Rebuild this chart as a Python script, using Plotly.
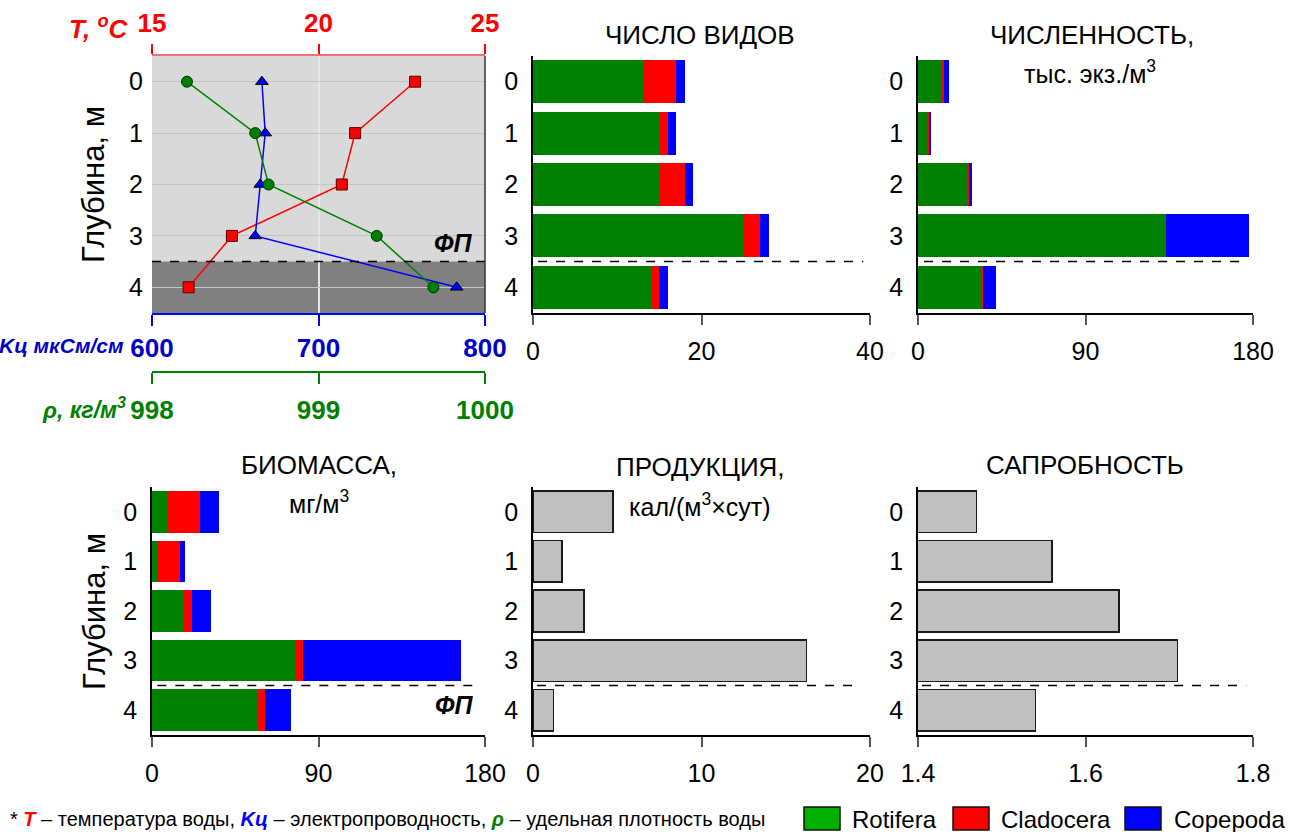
import plotly.graph_objects as go

# ---------------- data ----------------
depths = [0, 1, 2, 3, 4]
fp_depth = 3.5  # boundary of the layer ("ФП")

temperature = [22.9, 21.1, 20.7, 17.4, 16.1]          # T, °C
conductivity = [666, 668, 665, 662, 783]              # Kц, мкСм/см
density = [998.21, 998.62, 998.70, 999.35, 999.69]     # ρ, кг/м3

species_rotifera = [13, 15, 15, 25, 14]
species_cladocera = [4, 1, 3, 2, 1]
species_copepoda = [1, 1, 1, 1, 1]

abund_rotifera = [13.3, 5.6, 26.7, 133.0, 34.6]
abund_cladocera = [0.9, 0.5, 0.5, 0.3, 0.1]
abund_copepoda = [2.7, 0.7, 1.6, 44.5, 7.0]

biom_rotifera = [8.3, 2.7, 16.8, 77.2, 57.0]
biom_cladocera = [17.9, 12.7, 4.7, 4.4, 3.9]
biom_copepoda = [9.8, 2.5, 10.5, 85.2, 14.3]

production = [4.75, 1.72, 3.03, 16.24, 1.23]
saprobity = [1.47, 1.56, 1.64, 1.71, 1.54]

groups = ["Rotifera", "Cladocera", "Copepoda"]
t_ticks = [15, 20, 25]
k_ticks = [600, 700, 800]
r_ticks = [998, 999, 1000]

# ---------------- layout helpers ----------------
W, H = 1290, 832
FONT = "Liberation Sans, Arial, sans-serif"
GREEN, RED, BLUE = "#008000", "#ff0000", "#0000ff"
BAR_COLORS = [GREEN, RED, BLUE]


def px_x(p):
    return p / W


def px_y(p):
    return 1 - p / H


top_dom = [px_y(313), px_y(56)]
bot_dom = [px_y(735), px_y(487)]
col_dom = [[px_x(152), px_x(485)], [px_x(533), px_x(870)], [px_x(918), px_x(1253)]]

fig = go.Figure()

# ---------------- panel 1: profiles ----------------
fig.add_trace(go.Scatter(x=temperature, y=depths, xaxis="x", yaxis="y", mode="lines+markers",
                         line=dict(color=RED, width=1.5),
                         marker=dict(symbol="square", size=11, color=RED, line=dict(color="#5a0000", width=1)),
                         showlegend=False))
fig.add_trace(go.Scatter(x=conductivity, y=depths, xaxis="x7", yaxis="y", mode="lines+markers",
                         line=dict(color=BLUE, width=1.5),
                         marker=dict(symbol="triangle-up", size=11, color=BLUE, line=dict(color="#000000", width=1)),
                         showlegend=False))
fig.add_trace(go.Scatter(x=density, y=depths, xaxis="x8", yaxis="y", mode="lines+markers",
                         line=dict(color=GREEN, width=1.5),
                         marker=dict(symbol="circle", size=11, color=GREEN, line=dict(color="#003000", width=1)),
                         showlegend=False))

# ---------------- stacked bar panels ----------------
stacks = [
    ("x2", "y2", [species_rotifera, species_cladocera, species_copepoda]),
    ("x3", "y3", [abund_rotifera, abund_cladocera, abund_copepoda]),
    ("x4", "y4", [biom_rotifera, biom_cladocera, biom_copepoda]),
]
for xa, ya, series in stacks:
    for name, vals, col in zip(groups, series, BAR_COLORS):
        fig.add_trace(go.Bar(x=vals, y=depths, orientation="h", xaxis=xa, yaxis=ya, name=name,
                             marker=dict(color=col, line=dict(width=0)), showlegend=False))

for xa, ya, vals in [("x5", "y5", production), ("x6", "y6", saprobity)]:
    fig.add_trace(go.Bar(x=vals, y=depths, orientation="h", xaxis=xa, yaxis=ya,
                         marker=dict(color="#c0c0c0", line=dict(color="#1a1a1a", width=1.5)),
                         showlegend=False))

# ---------------- axes ----------------
tick_font = dict(family=FONT, size=25, color="#000000")


def yaxis_common(domain, anchor, showline=True, grid=False):
    return dict(domain=domain, anchor=anchor, range=[4.5, -0.5], tickvals=depths,
                tickfont=tick_font, showline=showline, linecolor="#000000", linewidth=1.5,
                ticks="", showgrid=grid, gridcolor="#c4c4c4", gridwidth=1, zeroline=False,
                ticklabelstandoff=8, automargin=False)


def xaxis_bar(domain, anchor, rng, ticks):
    return dict(domain=domain, anchor=anchor, range=rng, tickvals=ticks, tickfont=tick_font,
                showline=True, linecolor="#000000", linewidth=1.5, ticks="outside", ticklen=10,
                tickcolor="#555555", tickwidth=1.5, showgrid=False, zeroline=False,
                ticklabelstandoff=5, automargin=False)


layout = dict(
    width=W, height=H, margin=dict(l=0, r=0, t=0, b=0, pad=0, autoexpand=False),
    paper_bgcolor="white", plot_bgcolor="rgba(0,0,0,0)",
    barmode="stack", bargap=0.16, showlegend=False,
    font=dict(family=FONT, color="#000000"),
    xaxis=dict(domain=col_dom[0], anchor="y", side="top", range=[15, 25], tickvals=t_ticks,
               tickfont=dict(family=FONT, size=26, color=RED, weight="bold"),
               showline=True, linecolor="#f07070", linewidth=1.5, ticks="outside", ticklen=10,
               tickcolor=RED, tickwidth=1.5, showgrid=True, gridcolor="#e6e6e6", gridwidth=1.5,
               zeroline=False, ticklabelstandoff=2, automargin=False),
    xaxis7=dict(overlaying="x", anchor="y", side="bottom", range=[600, 800], tickvals=k_ticks,
                tickfont=dict(family=FONT, size=26, color="#0000c8", weight="bold"),
                showline=True, linecolor=BLUE, linewidth=2, ticks="outside", ticklen=11,
                tickcolor=BLUE, tickwidth=2, showgrid=False, zeroline=False, ticklabelstandoff=0,
                automargin=False),
    xaxis8=dict(overlaying="x", anchor="free", position=px_y(372), side="bottom", range=[998, 1000],
                tickvals=r_ticks, tickfont=dict(family=FONT, size=26, color=GREEN, weight="bold"),
                showline=True, linecolor=GREEN, linewidth=1.5, ticks="outside", ticklen=11,
                tickcolor=GREEN, tickwidth=1.5, showgrid=False, zeroline=False, ticklabelstandoff=4,
                automargin=False),
    yaxis=yaxis_common(top_dom, "x", showline=False, grid=True),
    xaxis2=xaxis_bar(col_dom[1], "y2", [0, 40], [0, 20, 40]),
    yaxis2=yaxis_common(top_dom, "x2"),
    xaxis3=xaxis_bar(col_dom[2], "y3", [0, 180], [0, 90, 180]),
    yaxis3=yaxis_common(top_dom, "x3"),
    xaxis4=xaxis_bar(col_dom[0], "y4", [0, 180], [0, 90, 180]),
    yaxis4=yaxis_common(bot_dom, "x4"),
    xaxis5=xaxis_bar(col_dom[1], "y5", [0, 20], [0, 10, 20]),
    yaxis5=yaxis_common(bot_dom, "x5"),
    xaxis6=xaxis_bar(col_dom[2], "y6", [1.4, 1.8], [1.4, 1.6, 1.8]),
    yaxis6=yaxis_common(bot_dom, "x6"),
)
fig.update_layout(**layout)

# ---------------- shapes ----------------
shapes = [
    dict(type="rect", xref="x domain", yref="y", x0=0, x1=1, y0=-0.5, y1=fp_depth,
         fillcolor="#d9d9d9", line=dict(width=0), layer="below"),
    dict(type="rect", xref="x domain", yref="y", x0=0, x1=1, y0=fp_depth, y1=4.5,
         fillcolor="#808080", line=dict(width=0), layer="below"),
    dict(type="line", xref="x domain", yref="y", x0=0, x1=1, y0=fp_depth, y1=fp_depth,
         line=dict(color="#000000", width=1.5, dash="dash")),
    dict(type="line", xref="x domain", yref="y domain", x0=1, x1=1, y0=0, y1=1,
         line=dict(color="#333333", width=1.5)),
]
for xa, ya, a, b in [("x2", "y2", 0.015, 0.98), ("x3", "y3", 0.018, 0.985),
                     ("x4", "y4", 0.016, 0.98), ("x5", "y5", 0.012, 0.97), ("x6", "y6", 0.012, 0.98)]:
    shapes.append(dict(type="line", xref=f"{xa} domain", yref=ya, x0=a, x1=b, y0=fp_depth, y1=fp_depth,
                       line=dict(color="#000000", width=1.5, dash="dash")))

# legend boxes
leg = [(804, 840, 850, "#00b000", "Rotifera"), (953, 989, 999, RED, "Cladocera"),
       (1125, 1161, 1172, BLUE, "Copepoda")]
for x0, x1, tx, col, name in leg:
    shapes.append(dict(type="rect", xref="paper", yref="paper", x0=px_x(x0), x1=px_x(x1),
                       y0=px_y(830), y1=px_y(807), fillcolor=col, line=dict(color="#111111", width=1.5)))
fig.update_layout(shapes=shapes)

# ---------------- annotations ----------------
ann = []


def text(x, y, s, size=24, color="#000000", xanchor="center", yanchor="middle", angle=0, family=FONT):
    ann.append(dict(x=px_x(x), y=px_y(y), xref="paper", yref="paper", text=s, showarrow=False,
                    xanchor=xanchor, yanchor=yanchor, textangle=angle,
                    font=dict(family=family, size=size, color=color)))


text(131, 27, "<b><i>T, <sup>o</sup>C</i></b>", size=26, color=RED, xanchor="right")
text(126, 345, "<b><i>Kц мкСм/см</i></b>", size=21, color="#0000c8", xanchor="right")
text(128, 408, "<b><i>ρ, кг/м<sup>3</sup></i></b>", size=23, color=GREEN, xanchor="right")
text(453, 243, "<b><i>ФП</i></b>", size=25)
text(454, 705, "<b><i>ФП</i></b>", size=25)
text(94, 185, "Глубина, м", size=31, angle=-90)
text(94, 612, "Глубина, м", size=31, angle=-90)

text(700, 35, "ЧИСЛО ВИДОВ", size=26)
text(1092, 35, "ЧИСЛЕННОСТЬ,", size=26)
text(1090, 72, "тыс. экз./м<sup>3</sup>", size=25)
text(319, 465, "БИОМАССА,", size=26)
text(319, 502, "мг/м<sup>3</sup>", size=25)
text(700, 467, "ПРОДУКЦИЯ,", size=26)
text(700, 505, "кал/(м<sup>3</sup>×сут)", size=25)
text(1085, 465, "САПРОБНОСТЬ", size=26)

foot = ("* <span style='color:#ff0000'><b><i>T</i></b></span> – температура воды, "
        "<span style='color:#0000ff'><b><i>Kц</i></b></span> – электропроводность, "
        "<span style='color:#008000'><b><i>ρ</i></b></span> – удельная плотность воды")
text(8, 819, foot, size=20, xanchor="left")
for x0, x1, tx, col, name in leg:
    text(tx, 819, name, size=24, xanchor="left")

fig.update_layout(annotations=ann)
fig.write_html("out.html", config={"displayModeBar": False},
               post_script="document.body.style.margin='0';")
